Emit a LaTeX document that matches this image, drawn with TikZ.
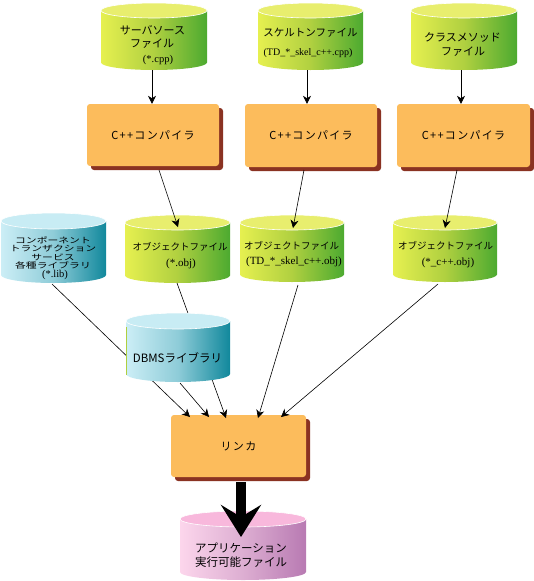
\documentclass[tikz,border=0pt]{standalone}
\usepackage{fontspec}
\setmainfont{Liberation Serif}
\newfontfamily\jp{Noto Sans CJK JP}
\newfontfamily\jpsp[LetterSpace=12]{Noto Sans CJK JP}
\newfontfamily\jpwide[FakeStretch=1.35]{Noto Sans CJK JP}
\usetikzlibrary{arrows.meta,shadows}
\definecolor{gL}{HTML}{E6F050}
\definecolor{gM}{HTML}{B0D040}
\definecolor{gR}{HTML}{4CAA30}
\definecolor{gT}{HTML}{E8EE6E}
\definecolor{cL}{HTML}{CCEEF6}
\definecolor{cM}{HTML}{8ECCD8}
\definecolor{cR}{HTML}{11889C}
\definecolor{cT}{HTML}{C8ECF4}
\definecolor{pL}{HTML}{FCD6EC}
\definecolor{pM}{HTML}{DDAED2}
\definecolor{pR}{HTML}{B87AB2}
\definecolor{pT}{HTML}{F8B8DC}
\definecolor{boxc}{HTML}{FCBC5C}
\definecolor{shadc}{HTML}{8A3222}
\newcommand\cylshape[6]{%
  \shade[left color=#6L,right color=#6R,middle color=#6M]
    (#1-#4,#2+#5) -- (#1-#4,#3-#5)
    arc[start angle=180,end angle=360,x radius=#4pt,y radius=#5pt]
    -- (#1+#4,#2+#5) -- cycle;
  \filldraw[fill=#6T,draw=white,line width=0.6pt] (#1,#2+#5) ellipse[x radius=#4pt,y radius=#5pt];
}
\tikzset{
  procbox/.style={rectangle,rounded corners=3pt,fill=boxc,inner sep=0pt,
    font=\jpsp\fontsize{11}{13}\selectfont,
    drop shadow={shadow xshift=4pt,shadow yshift=-4pt,fill=shadc,opacity=1}},
  jlbl/.style={inner sep=0pt,anchor=center,font=\jp\fontsize{#1}{#1}\selectfont},
  jlbl/.default=11,
  slbl/.style={inner sep=0pt,anchor=center,font=\rmfamily\fontsize{#1}{#1}\selectfont},
  slbl/.default=11,
  arr/.style={line width=0.6pt,-{Stealth[length=8pt,width=8pt,inset=2.5pt]}},
  link/.style={line width=0.6pt,-{Stealth[length=8pt,width=8pt,inset=2.5pt]}}
}
\begin{document}
\begin{tikzpicture}[x=1pt,y=-1pt]
\useasboundingbox (0,0) rectangle (534,581);
% top row cylinders
\cylshape{154}{3}{70}{53}{7.5}{g}
\cylshape{310.5}{3}{70}{52.5}{7.5}{g}
\cylshape{464}{3}{70}{53}{7.5}{g}
% compilers
\node[procbox,minimum width=132pt,minimum height=62pt] (c1) at (153,135) {C++コンパイラ};
\node[procbox,minimum width=132pt,minimum height=63pt] (c2) at (311,135.5) {C++コンパイラ};
\node[procbox,minimum width=133pt,minimum height=63pt] (c3) at (463.5,135.5) {C++コンパイラ};
\coordinate (srcB) at (152,70);
\coordinate (skelB) at (307,70);
\coordinate (clsB) at (461,70);
\draw[arr] (srcB) -- (srcB |- c1.north);
\draw[arr] (skelB) -- (skelB |- c2.north);
\draw[arr] (clsB) -- (clsB |- c3.north);
% second row cylinders
\cylshape{53.5}{213}{283}{52.5}{8}{c}
\cylshape{177.5}{215}{283}{52.5}{7.5}{g}
\cylshape{292}{215}{282}{52}{7.5}{g}
\cylshape{445}{215}{282}{52}{7.5}{g}
\coordinate (c1o) at (159,170);
\coordinate (c2o) at (304,170);
\coordinate (c3o) at (457,170);
\coordinate (obj1T) at (178,227);
\coordinate (obj2T) at (293,228);
\coordinate (obj3T) at (445,228);
\draw[arr] (c1o) -- (obj1T);
\draw[arr] (c2o) -- (obj2T);
\draw[arr] (c3o) -- (obj3T);
% linker
\node[procbox,minimum width=135pt,minimum height=62pt] (lk) at (238.5,446) {リンカ};
\coordinate (libB) at (52,284);
\coordinate (dbmsB) at (180,383);
\coordinate (obj1B) at (177,283);
\coordinate (obj2B) at (298,285);
\coordinate (obj3B) at (438,284);
\coordinate (L1) at (190,417);
\coordinate (L2) at (209,417);
\coordinate (L3) at (226,418);
\coordinate (L4) at (258,418);
\coordinate (L5) at (281,417);
\draw[link] (libB) -- (L1);
\draw[link] (obj1B) -- (L3);
\draw[link] (obj2B) -- (L4);
\draw[link] (obj3B) -- (L5);
% DBMS cylinder
\cylshape{178}{313}{382}{52}{8}{c}
\draw[color=gM,line width=0.8pt] (126.4,327) -- (126.4,375);
\draw[link] (dbmsB) -- (L2);
% application cylinder
\cylshape{243}{511}{580}{63}{8}{p}
\coordinate (lkB) at (241,482);
\coordinate (appT) at (241,537);
\draw[line width=10pt,-{Stealth[length=32pt,width=40pt,inset=12pt]}] (lkB) -- (appT);
% labels
\node[jlbl] (src1) at (152.5,30) {サーバソース};
\node[jlbl] (src2) at (152,44) {ファイル};
\node[slbl=10.5] (src3) at (158,60) {(*.cpp)};
\node[jlbl=10.5] (skel1) at (310.5,33) {スケルトンファイル};
\node[slbl=10] (skel2) at (308,53) {(TD\_*\_skel\_c++.cpp)};
\node[jlbl] (cls1) at (462.5,37) {クラスメソッド};
\node[jlbl] (cls2) at (463,52) {ファイル};
\node[jlbl=9.5] (obj1a) at (180,247) {オブジェクトファイル};
\node[slbl] (obj1b) at (181,264) {(*.obj)};
\node[jlbl=9.5] (obj2a) at (291.5,246) {オブジェクトファイル};
\node[slbl] (obj2b) at (294,262) {(TD\_*\_skel\_c++.obj)};
\node[jlbl=9.5] (obj3a) at (445.5,246) {オブジェクトファイル};
\node[slbl] (obj3b) at (448,263) {(*\_c++.obj)};
\node[inner sep=0pt,font=\jpwide\fontsize{8}{8}\selectfont] (lib1) at (53,240) {コンポーネント};
\node[inner sep=0pt,font=\jpwide\fontsize{8}{8}\selectfont] (lib2) at (53,248.5) {トランザクション};
\node[inner sep=0pt,font=\jpwide\fontsize{8}{8}\selectfont] (lib3) at (53,257) {サービス};
\node[inner sep=0pt,font=\jpwide\fontsize{8}{8}\selectfont] (lib4) at (53,265) {各種ライブラリ};
\node[slbl=10.5] (lib5) at (55,275) {(*.lib)};
\node[jlbl=11.5] (dbms) at (177.5,358) {DBMSライブラリ};
\node[jlbl=11.5] (app1) at (241,548) {アプリケーション};
\node[jlbl=11.5] (app2) at (241,562) {実行可能ファイル};
\end{tikzpicture}
\end{document}
